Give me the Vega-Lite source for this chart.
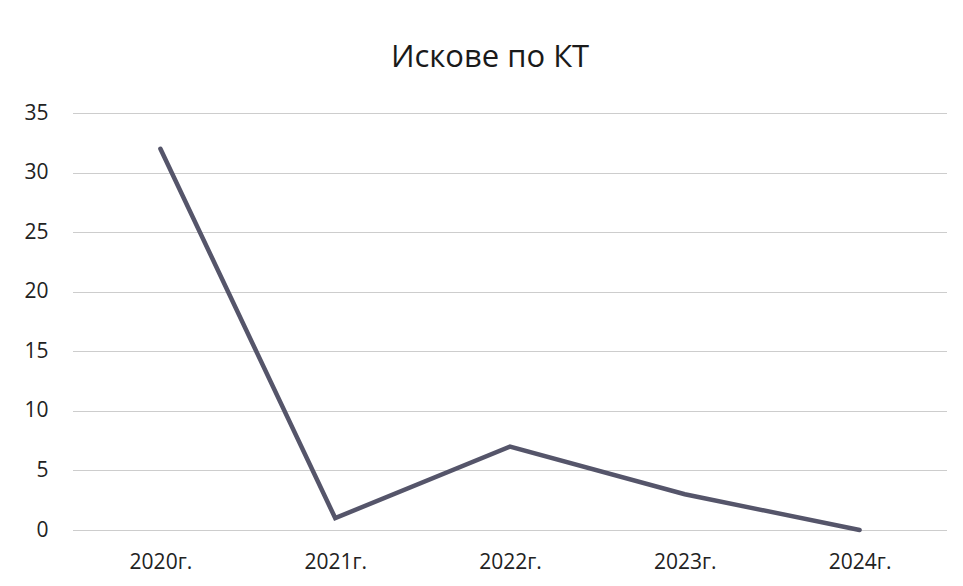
{
  "$schema": "https://vega.github.io/schema/vega-lite/v6.json",
  "width": 874,
  "height": 417,
  "autosize": {"type": "none"},
  "padding": {"left": 73, "top": 113, "right": 16, "bottom": 56},
  "background": "white",
  "title": {
    "text": "Искове по КТ",
    "font": "Open Sans",
    "fontSize": 31,
    "fontWeight": "normal",
    "color": "#1a1a1a",
    "anchor": "middle",
    "offset": 28,
    "dx": -20
  },
  "data": {
    "values": [
      {"year": "2020г.", "value": 32},
      {"year": "2021г.", "value": 1},
      {"year": "2022г.", "value": 7},
      {"year": "2023г.", "value": 3},
      {"year": "2024г.", "value": 0}
    ]
  },
  "mark": {"type": "line", "color": "#55556a", "strokeWidth": 4.5, "strokeCap": "round", "strokeJoin": "miter"},
  "encoding": {
    "x": {
      "field": "year",
      "type": "ordinal",
      "sort": null,
      "scale": {"type": "point", "padding": 0.5},
      "axis": {
        "title": null,
        "labelAngle": 0,
        "labelFont": "Open Sans",
        "labelFontSize": 21,
        "labelColor": "#222222",
        "labelPadding": 21,
        "ticks": false,
        "domain": false,
        "grid": false
      }
    },
    "y": {
      "field": "value",
      "type": "quantitative",
      "scale": {"domain": [0, 35], "nice": false},
      "axis": {
        "title": null,
        "values": [0, 5, 10, 15, 20, 25, 30, 35],
        "labelFont": "Open Sans",
        "labelFontSize": 21,
        "labelColor": "#222222",
        "labelPadding": 25,
        "ticks": false,
        "domain": false,
        "grid": true,
        "gridColor": "#9a9a9a",
        "gridWidth": 1,
        "gridDash": [1, 1]
      }
    }
  },
  "config": {"view": {"stroke": null}}
}
